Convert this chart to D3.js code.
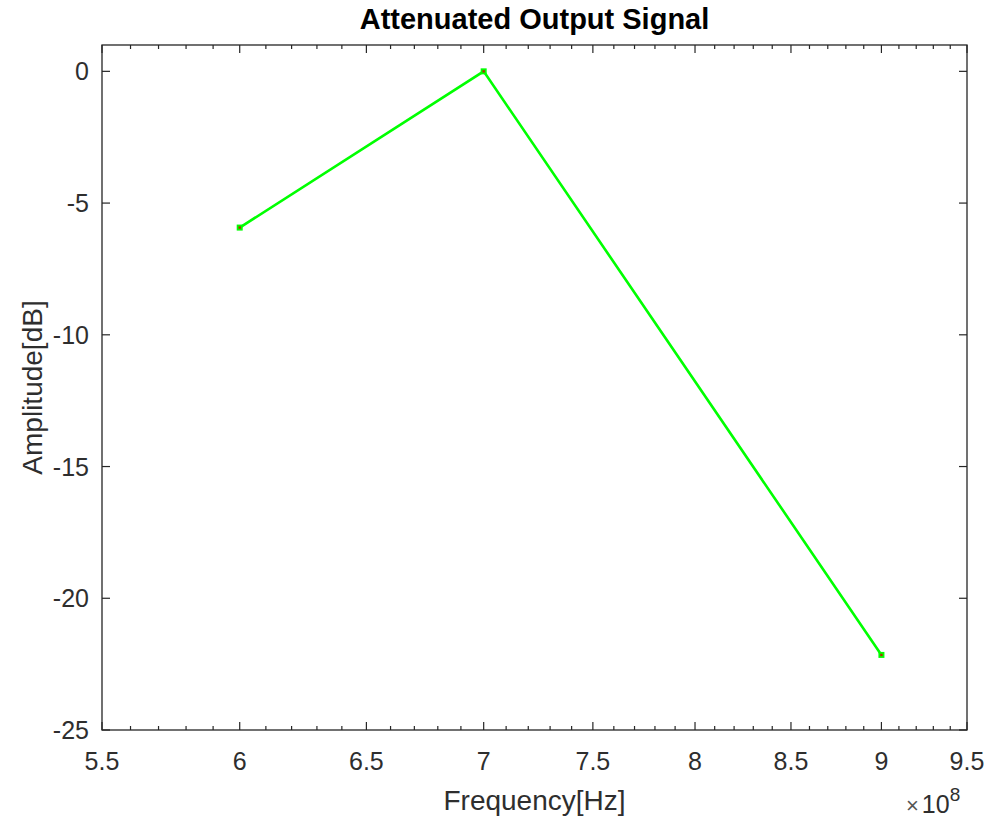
<!DOCTYPE html>
<html>
<head>
<meta charset="utf-8">
<script src="https://cdn.jsdelivr.net/npm/d3@7"></script>
<style>
  body { margin: 0; background: #fff; }
  svg { font-family: 'Liberation Sans', Arial, sans-serif; }
  .tick-label { font-size: 25px; fill: #2e2e2e; }
  .axis-label { font-size: 28px; fill: #2e2e2e; }
  .title { font-size: 29px; font-weight: bold; fill: #000; }
</style>
</head>
<body>
<svg class="chartSVG" width="991" height="817"></svg>
<script>
// data
const freqs = [6e8, 7e8, 9e8];
const ampsDb = [-5.93, 0, -22.15];

const xTickVals = [5.5, 6, 6.5, 7, 7.5, 8, 8.5, 9, 9.5];
const yTickVals = [-25, -20, -15, -10, -5, 0];

const svg = d3.select('svg.chartSVG');
const box = {left: 102, right: 967, top: 45, bottom: 730};
const axisCol = '#262626';

// x axis is log scaled (tick spacing shrinks to the right)
const x = d3.scaleLog()
    .domain([5.5e8, 9.5e8])
    .range([box.left, box.right]);

const y = d3.scaleLinear()
    .domain([-25, 1])
    .range([box.bottom, box.top]);

const minorX = d3.range(56, 95).map(d => d / 10)
    .filter(d => !xTickVals.some(t => Math.abs(t - d) < 1e-9));

const axG = svg.append('g').attr('class', 'axes');

// x ticks, bottom and top, pointing inward
const xTicks = xTickVals.map(v => ({v: v, len: 8}))
    .concat(minorX.map(v => ({v: v, len: 4})));

axG.selectAll('line.xtick-b')
  .data(xTicks)
  .enter()
  .append('line')
  .attr('class', 'xtick-b')
  .attr('x1', d => x(d.v * 1e8))
  .attr('x2', d => x(d.v * 1e8))
  .attr('y1', box.bottom)
  .attr('y2', d => box.bottom - d.len)
  .style('stroke', axisCol)
  .style('stroke-width', 1.2);

axG.selectAll('line.xtick-t')
  .data(xTicks)
  .enter()
  .append('line')
  .attr('class', 'xtick-t')
  .attr('x1', d => x(d.v * 1e8))
  .attr('x2', d => x(d.v * 1e8))
  .attr('y1', box.top)
  .attr('y2', d => box.top + d.len)
  .style('stroke', axisCol)
  .style('stroke-width', 1.2);

// y ticks, left and right
axG.selectAll('line.ytick-l')
  .data(yTickVals)
  .enter()
  .append('line')
  .attr('x1', box.left)
  .attr('x2', box.left + 8)
  .attr('y1', d => y(d))
  .attr('y2', d => y(d))
  .style('stroke', axisCol)
  .style('stroke-width', 1.2);

axG.selectAll('line.ytick-r')
  .data(yTickVals)
  .enter()
  .append('line')
  .attr('x1', box.right)
  .attr('x2', box.right - 8)
  .attr('y1', d => y(d))
  .attr('y2', d => y(d))
  .style('stroke', axisCol)
  .style('stroke-width', 1.2);

axG.append('rect')
  .attr('x', box.left)
  .attr('y', box.top)
  .attr('width', box.right - box.left)
  .attr('height', box.bottom - box.top)
  .style('fill', 'none')
  .style('stroke', axisCol)
  .style('stroke-width', 1.3);

// tick labels
axG.selectAll('text.xlab')
  .data(xTickVals)
  .enter()
  .append('text')
  .attr('class', 'tick-label xlab')
  .attr('x', d => x(d * 1e8))
  .attr('y', 770)
  .style('text-anchor', 'middle')
  .text(d => d);

axG.selectAll('text.ylab')
  .data(yTickVals)
  .enter()
  .append('text')
  .attr('class', 'tick-label ylab')
  .attr('x', 89)
  .attr('y', d => y(d) + 9)
  .style('text-anchor', 'end')
  .text(d => d);

// exponent
const expo = svg.append('text')
  .attr('class', 'tick-label')
  .attr('x', 906)
  .attr('y', 813);
expo.append('tspan').text('\u00d7').style('font-size', '22px').style('fill', '#555');
expo.append('tspan').text('10').attr('dx', 3).style('font-size', '25px');
expo.append('tspan').text('8').attr('dy', -12).style('font-size', '19px');

// labels
svg.append('text')
  .attr('class', 'axis-label')
  .attr('x', (box.left + box.right) / 2)
  .attr('y', 810)
  .style('text-anchor', 'middle')
  .text('Frequency[Hz]');

svg.append('text')
  .attr('class', 'axis-label')
  .attr('transform', `translate(42, ${(box.top + box.bottom) / 2}) rotate(-90)`)
  .style('text-anchor', 'middle')
  .text('Amplitude[dB]');

svg.append('text')
  .attr('class', 'title')
  .attr('x', (box.left + box.right) / 2)
  .attr('y', 29)
  .style('text-anchor', 'middle')
  .text('Attenuated Output Signal');

// the line
const pts = freqs.map((f, i) => ({f: f, a: ampsDb[i]}));

const line = d3.line()
  .x(d => x(d.f))
  .y(d => y(d.a));

svg.append('path')
  .datum(pts)
  .attr('d', line)
  .style('fill', 'none')
  .style('stroke', '#00ff00')
  .style('stroke-width', 2.6);

const mk = svg.append('g').attr('class', 'markers')
  .selectAll('g')
  .data(pts)
  .enter()
  .append('g')
  .attr('transform', d => `translate(${x(d.f)}, ${y(d.a)})`);

mk.append('rect')
  .attr('x', -3).attr('y', -3)
  .attr('width', 6).attr('height', 6)
  .style('fill', '#00ff00');

mk.append('rect')
  .attr('x', -1.2).attr('y', -1.2)
  .attr('width', 2.4).attr('height', 2.4)
  .style('fill', '#b03000');
</script>
</body>
</html>
